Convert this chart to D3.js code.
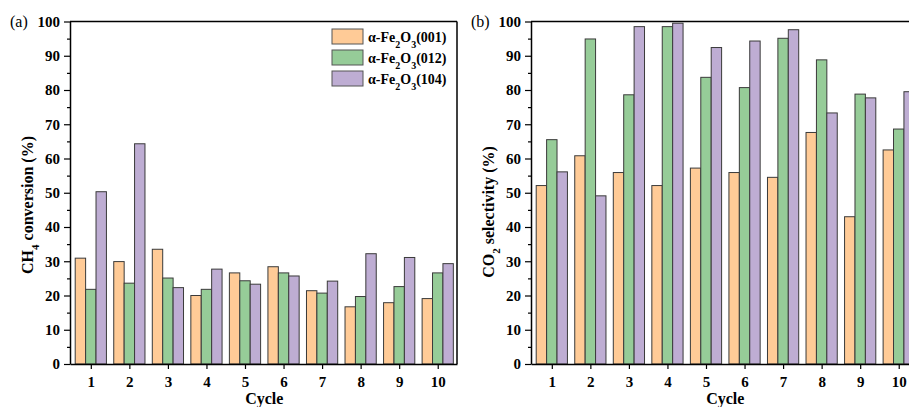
<!DOCTYPE html>
<style>
	body { margin: 0; background: #fff; }
	text { font-family: "Liberation Serif", "Times New Roman", serif; }
	.axis .domain { stroke: #000; stroke-width: 1.5; }
	.axis line { stroke: #000; stroke-width: 1.2; }
	.axis text { font-size: 15px; font-weight: bold; fill: #000; }
</style>
<svg width="909" height="407"></svg>
<script src="https://d3js.org/d3.v7.min.js"></script>
<script>

	var cycles = [1, 2, 3, 4, 5, 6, 7, 8, 9, 10];
	var keys = ["001", "012", "104"];
	var colors = ["#FFCB97", "#96CC98", "#BEADD3"];

	// CH4 conversion (%)
	var ch4_001 = [30.9, 29.9, 33.5, 20.0, 26.6, 28.4, 21.4, 16.7, 17.9, 19.1];
	var ch4_012 = [21.8, 23.6, 25.1, 21.8, 24.3, 26.6, 20.7, 19.7, 22.6, 26.6];
	var ch4_104 = [50.3, 64.3, 22.3, 27.7, 23.3, 25.7, 24.2, 32.2, 31.1, 29.3];

	// CO2 selectivity (%)
	var co2_001 = [52.1, 60.8, 55.9, 52.1, 57.2, 55.9, 54.5, 67.6, 43.0, 62.5];
	var co2_012 = [65.5, 94.9, 78.6, 98.5, 83.7, 80.7, 95.1, 88.8, 78.8, 68.6];
	var co2_104 = [56.1, 49.1, 98.5, 99.5, 92.4, 94.3, 97.6, 73.3, 77.7, 79.5];

	var yTicks = [0, 10, 20, 30, 40, 50, 60, 70, 80, 90, 100];
	var yMinor = [5, 15, 25, 35, 45, 55, 65, 75, 85, 95];

	var svg = d3.select("svg");

	function panel(opts) {
		var x = d3.scaleLinear().domain([0.46, 10.5]).range([opts.left, opts.left + 387]);
		var y = d3.scaleLinear().domain([0, 100]).range([364, 21.5]);
		var bw = 0.27;
		var series = opts.series;

		var g = svg.append("g");

		keys.forEach(function(k, j) {
			g.append("g").selectAll("rect")
				.data(cycles)
				.enter().append("rect")
				.attr("x", function(d) { return x(d + (j - 1.5) * bw); })
				.attr("y", function(d, i) { return y(series[j][i]); })
				.attr("width", function(d) { return x(d + bw) - x(d); })
				.attr("height", function(d, i) { return y(0) - y(series[j][i]); })
				.attr("fill", colors[j])
				.attr("stroke", "#3a3a3a")
				.attr("stroke-width", 1);
		});

		// frame: top and (optionally) right
		g.append("line")
			.attr("x1", x(0.46)).attr("x2", Math.min(909, x(10.5)))
			.attr("y1", y(100)).attr("y2", y(100))
			.attr("stroke", "#000").attr("stroke-width", 1.5);
		if (opts.rightFrame) {
			g.append("line")
				.attr("x1", x(10.5)).attr("x2", x(10.5))
				.attr("y1", y(100)).attr("y2", y(0))
				.attr("stroke", "#000").attr("stroke-width", 1.5);
		}

		g.append("g")
			.attr("class", "axis")
			.attr("transform", "translate(" + opts.left + ",0)")
			.call(d3.axisLeft(y).tickValues(yMinor).tickSize(3).tickFormat(""))
			.select(".domain").remove();

		g.append("g")
			.attr("class", "axis")
			.attr("transform", "translate(" + opts.left + ",0)")
			.call(d3.axisLeft(y).tickValues(yTicks).tickSize(6).tickSizeOuter(0).tickPadding(4));

		g.append("g")
			.attr("class", "axis")
			.attr("transform", "translate(0," + y(0) + ")")
			.call(d3.axisBottom(x).tickValues(cycles).tickSize(5).tickSizeOuter(0).tickPadding(7));

		svg.append("text")
			.attr("x", (x(1) + x(10)) / 2)
			.attr("y", 404)
			.attr("text-anchor", "middle")
			.style("font-size", "16px")
			.style("font-weight", "bold")
			.text("Cycle");

		svg.append("text")
			.attr("x", opts.left - 60)
			.attr("y", 27)
			.style("font-size", "16px")
			.text(opts.tag);

		var t = svg.append("text")
			.attr("transform", "translate(" + (opts.left - 37) + "," + opts.titleY + ") rotate(-90)")
			.attr("text-anchor", "middle")
			.style("font-size", "16px")
			.style("font-weight", "bold");
		t.append("tspan").text(opts.title[0]);
		t.append("tspan").attr("baseline-shift", "sub").style("font-size", "11px").text(opts.title[1]);
		t.append("tspan").text(opts.title[2]);

		return g;
	}

	panel({
		left: 70,
		series: [ch4_001, ch4_012, ch4_104],
		rightFrame: true,
		tag: "(a)",
		titleY: 205,
		title: ["CH", "4", " conversion (%)"]
	});

	panel({
		left: 531,
		series: [co2_001, co2_012, co2_104],
		rightFrame: false,
		tag: "(b)",
		titleY: 212,
		title: ["CO", "2", " selectivity (%)"]
	});

	// legend
	var legend = svg.append("g")
		.selectAll("g")
		.data(keys)
		.enter().append("g")
		.attr("transform", function(d, i) { return "translate(332," + (29 + i * 21) + ")"; });

	legend.append("rect")
		.attr("width", 31)
		.attr("height", 15)
		.attr("fill", function(d, i) { return colors[i]; })
		.attr("stroke", "#555")
		.attr("stroke-width", 1);

	var lt = legend.append("text")
		.attr("x", 36)
		.attr("y", 12.5)
		.style("font-size", "14px")
		.style("font-weight", "bold");
	lt.append("tspan").text("α-Fe");
	lt.append("tspan").attr("baseline-shift", "sub").style("font-size", "10px").text("2");
	lt.append("tspan").text("O");
	lt.append("tspan").attr("baseline-shift", "sub").style("font-size", "10px").text("3");
	lt.append("tspan").text(function(d) { return "(" + d + ")"; });

</script>
